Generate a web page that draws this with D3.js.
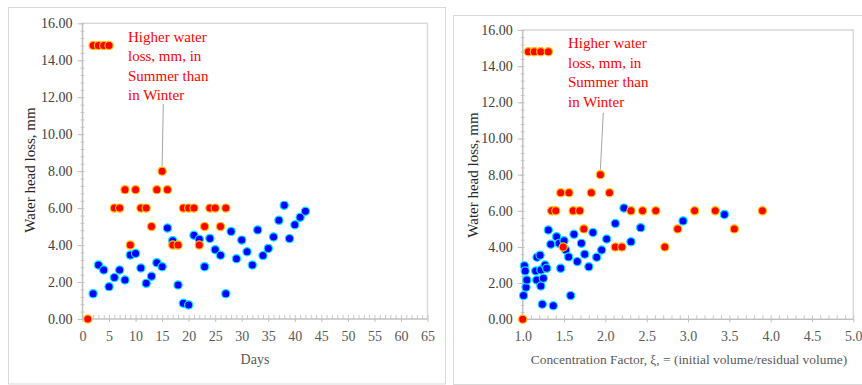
<!DOCTYPE html>
<html>
<head>
<meta charset="utf-8">
<script src="https://cdn.jsdelivr.net/npm/d3@7"></script>
<style>
  html, body { margin: 0; padding: 0; background: #fff; }
  svg { display: block; }
</style>
</head>
<body>
<svg id="chart" width="862" height="385"></svg>
<script>
// Summer run: day, concentration factor and water head loss (mm)
const summerDays = [1, 2, 3, 4, 5, 6, 7, 8, 9, 10, 11, 12, 13, 14, 15, 16, 17, 18, 19, 20, 21, 22, 23, 24, 25, 26, 27];
const summerLoss = [0, 14.8, 14.8, 14.8, 14.8, 6, 6, 7, 4, 7, 6, 6, 5, 7, 8, 7, 4, 4, 6, 6, 6, 4, 5, 6, 6, 5, 6];
const summerCF = [1.0, 1.068, 1.14, 1.218, 1.31, 1.35, 1.40, 1.46, 1.49, 1.56, 1.61, 1.69, 1.74, 1.83, 1.94,
                  2.05, 2.12, 2.20, 2.31, 2.45, 2.61, 2.72, 2.875, 3.08, 3.33, 3.56, 3.90];

// Winter run: day vs head loss
const winterDays = d3.range(2, 43);
const winterLoss = [1.37, 2.92, 2.65, 1.75, 2.24, 2.65, 2.11, 3.46, 3.55, 2.76, 1.93, 2.31, 3.05, 2.83, 4.92,
                    4.24, 1.84, 0.85, 0.76, 4.53, 4.31, 2.83, 4.36, 3.75, 3.45, 1.37, 4.74, 3.26, 4.27, 3.64,
                    2.92, 4.82, 3.43, 3.82, 4.44, 5.34, 6.15, 4.35, 5.10, 5.50, 5.83];
// Winter run: concentration factor vs head loss
const winterCF = [1.01, 1.02, 1.03, 1.04, 1.05, 1.157, 1.17, 1.173, 1.21, 1.22, 1.22, 1.25, 1.27, 1.29, 1.237,
                  1.37, 1.31, 1.34, 1.41, 1.44, 1.50, 1.52, 1.555, 1.46, 1.58, 1.62, 1.71, 1.75, 1.66, 1.80,
                  1.85, 1.895, 1.955, 2.016, 2.12, 2.225, 2.31, 2.427, 2.94, 3.44];
const winterCFLoss = [1.31, 2.96, 2.67, 1.77, 2.17, 2.67, 2.17, 3.43, 3.54, 2.73, 1.84, 2.27, 3.00, 2.82, 0.83,
                      0.75, 4.94, 4.15, 4.57, 4.20, 4.35, 3.83, 3.45, 2.82, 1.31, 4.70, 4.20, 3.60, 3.19, 2.91,
                      4.80, 3.43, 3.83, 4.44, 5.30, 6.15, 4.29, 5.07, 5.44, 5.80];

// Axis tick values
const yTicks = d3.range(0, 16.01, 2);
const yMinor = d3.range(0, 16.01, 0.4);
const dayTicks = d3.range(0, 66, 5);
const dayMinor = d3.range(0, 66, 1);
const cfTicks = d3.range(1, 5.01, 0.5);
const cfMinor = d3.range(1, 5.001, 0.1);

const noteLines = ["Higher water", "loss, mm, in", "Summer than", "in Winter"];
const yTitle = "Water head loss, mm";
const FONT = "'Liberation Serif', 'DejaVu Serif', serif";

const svg = d3.select("#chart");

// Outer chart frames
svg.append("rect").attr("x", 8.5).attr("y", 7.5).attr("width", 437).attr("height", 376.5)
  .attr("fill", "#fff").attr("stroke", "#d9d9d9").attr("stroke-width", 1);
svg.append("rect").attr("x", 453.5).attr("y", 15.5).attr("width", 430).attr("height", 369)
  .attr("fill", "#fff").attr("stroke", "#d9d9d9").attr("stroke-width", 1);

function panel(opt) {
  const g = svg.append("g").attr("font-family", FONT);
  const x = opt.x, y = opt.y;
  const [x0, x1] = x.range();
  const [y0, y1] = y.range();

  // plot-area border
  g.append("rect").attr("x", x0).attr("y", y1).attr("width", x1 - x0).attr("height", y0 - y1)
    .attr("fill", "none").attr("stroke", "#d9d9d9").attr("stroke-width", 1.5);

  // y axis: minor ticks, then major ticks with labels
  g.append("g").attr("transform", `translate(${x0 + 2},0)`)
    .call(d3.axisLeft(y).tickValues(yMinor).tickFormat("").tickSizeInner(4).tickSizeOuter(0))
    .call(a => a.select(".domain").remove())
    .call(a => a.selectAll("line").attr("stroke", "#c8c8c8"));
  g.append("g").attr("transform", `translate(${x0},0)`)
    .call(d3.axisLeft(y).tickValues(yTicks).tickFormat(d3.format(".2f")).tickSizeInner(5).tickSizeOuter(0).tickPadding(5))
    .attr("font-family", FONT).attr("font-size", 14)
    .call(a => a.select(".domain").remove())
    .call(a => a.selectAll("line").attr("stroke", "#bfbfbf"))
    .call(a => a.selectAll("text").attr("fill", "#404040"));

  // x axis: minor ticks inside, major ticks with labels
  g.append("g").attr("transform", `translate(0,${y0})`)
    .call(d3.axisBottom(x).tickValues(opt.minor).tickFormat("").tickSizeInner(-4).tickSizeOuter(0))
    .call(a => a.select(".domain").remove())
    .call(a => a.selectAll("line").attr("stroke", "#c8c8c8"));
  g.append("g").attr("transform", `translate(0,${y0})`)
    .call(d3.axisBottom(x).tickValues(opt.major).tickFormat(opt.fmt).tickSizeInner(3).tickSizeOuter(0).tickPadding(9))
    .attr("font-family", FONT).attr("font-size", 14)
    .call(a => a.select(".domain").remove())
    .call(a => a.selectAll("line").attr("stroke", "#bfbfbf"))
    .call(a => a.selectAll("text").attr("fill", "#595959"));

  // axis lines
  g.append("line").attr("x1", x0).attr("x2", x0).attr("y1", y1).attr("y2", y0)
    .attr("stroke", "#bfbfbf").attr("stroke-width", 1.2);
  g.append("line").attr("x1", x0).attr("x2", x1).attr("y1", y0).attr("y2", y0)
    .attr("stroke", "#bfbfbf").attr("stroke-width", 1.2);

  // axis titles
  g.append("text").attr("transform", `translate(${opt.yTitleX},${opt.yTitleY}) rotate(-90)`)
    .attr("text-anchor", "middle").attr("font-size", 15).attr("fill", "#262626").text(yTitle);
  g.append("text").attr("x", opt.xTitleX).attr("y", 364).attr("text-anchor", "middle")
    .attr("font-size", opt.xTitleSize).attr("fill", "#595959").text(opt.xTitle);

  // leader from the note to the 8 mm point
  g.append("line")
    .attr("x1", opt.leader[0]).attr("y1", opt.leader[1])
    .attr("x2", x(opt.target[0])).attr("y2", y(opt.target[1]) - 5)
    .attr("stroke", "#a6a6a6").attr("stroke-width", 1);

  // winter (blue) then summer (red) markers
  g.append("g").selectAll("circle").data(opt.winter).join("circle")
    .attr("cx", d => x(d[0])).attr("cy", d => y(d[1])).attr("r", 4.1)
    .attr("fill", "#0000ff").attr("stroke", "#00e5ff").attr("stroke-width", 1.2);
  g.append("g").selectAll("circle").data(opt.summer).join("circle")
    .attr("cx", d => x(d[0])).attr("cy", d => y(d[1])).attr("r", 4.1)
    .attr("fill", "#ff0000").attr("stroke", "#ffc000").attr("stroke-width", 1.2);

  // note text
  const t = g.append("text").attr("font-size", 15).attr("fill", "#ff0000");
  noteLines.forEach((s, i) => {
    t.append("tspan").attr("x", opt.noteX).attr("y", opt.noteY + i * 19.5).text(s);
  });
}

// Head loss vs days
panel({
  x: d3.scaleLinear().domain([0, 65]).range([82.5, 427.5]),
  y: d3.scaleLinear().domain([0, 16]).range([319, 23.3]),
  major: dayTicks, minor: dayMinor, fmt: d3.format("d"),
  xTitle: "Days", xTitleX: 255, xTitleSize: 14,
  yTitleX: 35, yTitleY: 170,
  summer: summerDays.map((d, i) => [d, summerLoss[i]]),
  winter: winterDays.map((d, i) => [d, winterLoss[i]]),
  target: [summerDays[14], summerLoss[14]],
  leader: [163.3, 104],
  noteX: 128, noteY: 41.5
});

// Head loss vs concentration factor
panel({
  x: d3.scaleLinear().domain([1, 5]).range([522.7, 853.3]),
  y: d3.scaleLinear().domain([0, 16]).range([319.3, 30]),
  major: cfTicks, minor: cfMinor, fmt: d3.format(".1f"),
  xTitle: "Concentration Factor, ξ, = (initial volume/residual volume)", xTitleX: 689, xTitleSize: 13.4,
  yTitleX: 478, yTitleY: 175,
  summer: summerCF.map((d, i) => [d, summerLoss[i]]),
  winter: winterCF.map((d, i) => [d, winterCFLoss[i]]),
  target: [summerCF[14], summerLoss[14]],
  leader: [603.3, 112.7],
  noteX: 568, noteY: 48
});
</script>
</body>
</html>
